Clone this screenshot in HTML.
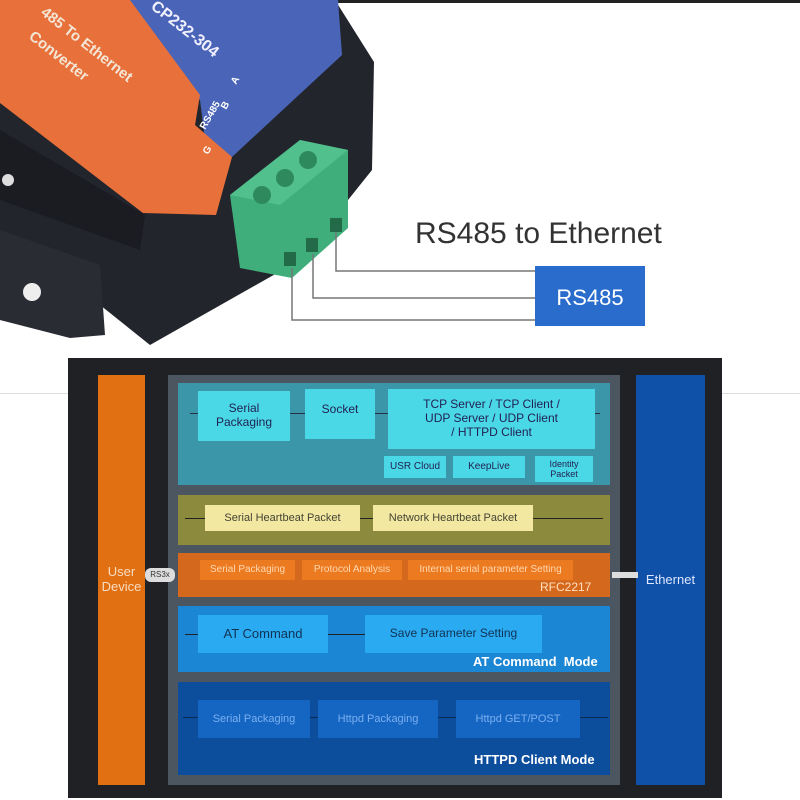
<!DOCTYPE html><html><head><style>
body{margin:0;width:800px;height:800px;background:#fff;position:relative;overflow:hidden;font-family:"Liberation Sans",sans-serif}
.a{position:absolute;box-sizing:border-box}
.t{display:flex;align-items:center;justify-content:center;text-align:center;line-height:1.15}
.ln{position:absolute;height:1px;background:#222}
</style></head><body>
<svg class="a" style="left:0;top:0" width="800" height="360">
<rect x="0" y="0" width="800" height="3" fill="#222"/>
<polygon points="0,0 335,0 374,62 372,170 348,200 300,260 150,345 100,305 0,250" fill="#23252d"/>
<polygon points="0,230 100,265 105,335 70,338 0,320" fill="#2a2c34"/>
<polygon points="0,130 145,215 140,250 0,200" fill="#1b1c22"/>
<circle cx="32" cy="292" r="9" fill="#eee"/><circle cx="8" cy="180" r="6" fill="#ddd"/>
<polygon points="100,0 338,0 342,55 232,157 205,140 200,100" fill="#4a64b8"/>
<polygon points="0,0 130,0 200,95 195,125 232,157 216,215 143,213 0,103" fill="#e8703a"/>
<text x="40" y="14" fill="#f4e6d6" font-size="15" font-weight="bold" transform="rotate(38 40 14)">485 To Ethernet</text>
<text x="28" y="38" fill="#f4e6d6" font-size="15" font-weight="bold" transform="rotate(38 28 38)">Converter</text>
<text x="150" y="8" fill="#f0f0ff" font-size="16" font-weight="bold" transform="rotate(38 150 8)">CP232-304</text>
<text x="205" y="130" fill="#fff" font-size="10" font-weight="bold" transform="rotate(-60 205 130)">RS485</text>
<text x="226" y="110" fill="#fff" font-size="10" font-weight="bold" transform="rotate(-60 226 110)">B</text>
<text x="236" y="85" fill="#fff" font-size="10" font-weight="bold" transform="rotate(-60 236 85)">A</text>
<text x="208" y="155" fill="#fff" font-size="10" font-weight="bold" transform="rotate(-60 208 155)">G</text>
<polygon points="230,195 300,140 348,150 348,228 292,278 240,268" fill="#3fae7a"/>
<polygon points="230,195 300,140 348,150 280,205" fill="#52c08c"/>
<circle cx="262" cy="195" r="9" fill="#2e8a5c"/><circle cx="285" cy="178" r="9" fill="#2e8a5c"/><circle cx="308" cy="160" r="9" fill="#2e8a5c"/>
<rect x="284" y="252" width="12" height="14" fill="#236b48"/><rect x="306" y="238" width="12" height="14" fill="#236b48"/><rect x="330" y="218" width="12" height="14" fill="#236b48"/>
<polyline points="292,268 292,320 535,320" fill="none" stroke="#777" stroke-width="1.5"/>
<polyline points="313,254 313,298 535,298" fill="none" stroke="#777" stroke-width="1.5"/>
<polyline points="336,232 336,271 535,271" fill="none" stroke="#777" stroke-width="1.5"/>
<text x="415" y="243" fill="#333" font-size="30">RS485 to Ethernet</text>
<rect x="535" y="266" width="110" height="60" fill="#2a6ccc"/>
<text x="590" y="305" fill="#fff" font-size="22" text-anchor="middle">RS485</text>
</svg>
<div class="a" style="left:0;top:393px;width:800px;height:1px;background:#ddd"></div>
<div class="a" style="left:68px;top:358px;width:654px;height:440px;background:#202125"></div>
<div class="a t" style="left:98px;top:375px;width:47px;height:410px;background:#e07012;color:#f8dcc0;font-size:13px">User<br>Device</div>
<div class="a t" style="left:636px;top:375px;width:69px;height:410px;background:#0f50a8;color:#dfe8ff;font-size:13px">Ethernet</div>
<div class="a" style="left:168px;top:375px;width:452px;height:410px;background:#4b5661"></div>
<div class="a t" style="left:145px;top:568px;width:30px;height:14px;background:#ddd;color:#333;font-size:8px;border-radius:6px">RS3x</div>
<div class="a" style="left:612px;top:572px;width:26px;height:6px;background:#ddd"></div>
<div class="a" style="left:178px;top:383px;width:432px;height:102px;background:#3a96a8"></div>
<div class="ln" style="left:190px;top:413px;width:410px;background:#234"></div>
<div class="a t" style="left:198px;top:391px;width:92px;height:50px;background:#4ad8e6;color:#225;font-size:12px">Serial<br>Packaging</div>
<div class="a t" style="left:305px;top:389px;width:70px;height:50px;background:#4ad8e6;color:#225;font-size:12px;align-items:flex-start;padding-top:14px">Socket</div>
<div class="a t" style="left:388px;top:389px;width:207px;height:60px;background:#4ad8e6;color:#225;font-size:12px">TCP Server / TCP Client /<br>UDP Server / UDP Client<br>/ HTTPD Client</div>
<div class="a t" style="left:384px;top:456px;width:62px;height:22px;background:#4ad8e6;color:#225;font-size:10px">USR Cloud</div>
<div class="a t" style="left:453px;top:456px;width:72px;height:22px;background:#4ad8e6;color:#225;font-size:10px">KeepLive</div>
<div class="a t" style="left:535px;top:456px;width:58px;height:26px;background:#4ad8e6;color:#225;font-size:9px">Identity<br>Packet</div>
<div class="a" style="left:178px;top:495px;width:432px;height:50px;background:#8c8a3c"></div>
<div class="ln" style="left:185px;top:518px;width:418px"></div>
<div class="a t" style="left:205px;top:505px;width:155px;height:26px;background:#f2e8a2;color:#443;font-size:11px">Serial Heartbeat Packet</div>
<div class="a t" style="left:373px;top:505px;width:160px;height:26px;background:#f2e8a2;color:#443;font-size:11px">Network Heartbeat Packet</div>
<div class="a" style="left:178px;top:553px;width:432px;height:44px;background:#d4681c"></div>
<div class="a t" style="left:200px;top:560px;width:95px;height:20px;background:#ec7a20;color:#ffd8b0;font-size:10px">Serial Packaging</div>
<div class="a t" style="left:302px;top:560px;width:100px;height:20px;background:#ec7a20;color:#ffd8b0;font-size:10px">Protocol Analysis</div>
<div class="a t" style="left:408px;top:560px;width:165px;height:20px;background:#ec7a20;color:#ffd8b0;font-size:10px">Internal serial parameter Setting</div>
<div class="a" style="left:540px;top:580px;color:#ffe0c0;font-size:12px">RFC2217</div>
<div class="a" style="left:178px;top:606px;width:432px;height:66px;background:#1a86d4"></div>
<div class="ln" style="left:185px;top:634px;width:180px"></div>
<div class="a t" style="left:198px;top:615px;width:130px;height:38px;background:#2aaaf0;color:#135;font-size:13px">AT Command</div>
<div class="a t" style="left:365px;top:615px;width:177px;height:38px;background:#2aaaf0;color:#135;font-size:12px">Save Parameter Setting</div>
<div class="a" style="left:473px;top:654px;color:#fff;font-size:13px;font-weight:bold">AT Command&nbsp; Mode</div>
<div class="a" style="left:178px;top:682px;width:432px;height:93px;background:#0c4d9c"></div>
<div class="ln" style="left:183px;top:717px;width:425px;background:#0a2a55"></div>
<div class="a t" style="left:198px;top:700px;width:112px;height:38px;background:#1565c2;color:#7ab0f0;font-size:11px">Serial Packaging</div>
<div class="a t" style="left:318px;top:700px;width:120px;height:38px;background:#1565c2;color:#7ab0f0;font-size:11px">Httpd Packaging</div>
<div class="a t" style="left:456px;top:700px;width:124px;height:38px;background:#1565c2;color:#7ab0f0;font-size:11px">Httpd GET/POST</div>
<div class="a" style="left:474px;top:752px;color:#fff;font-size:13px;font-weight:bold">HTTPD Client Mode</div>
</body></html>
